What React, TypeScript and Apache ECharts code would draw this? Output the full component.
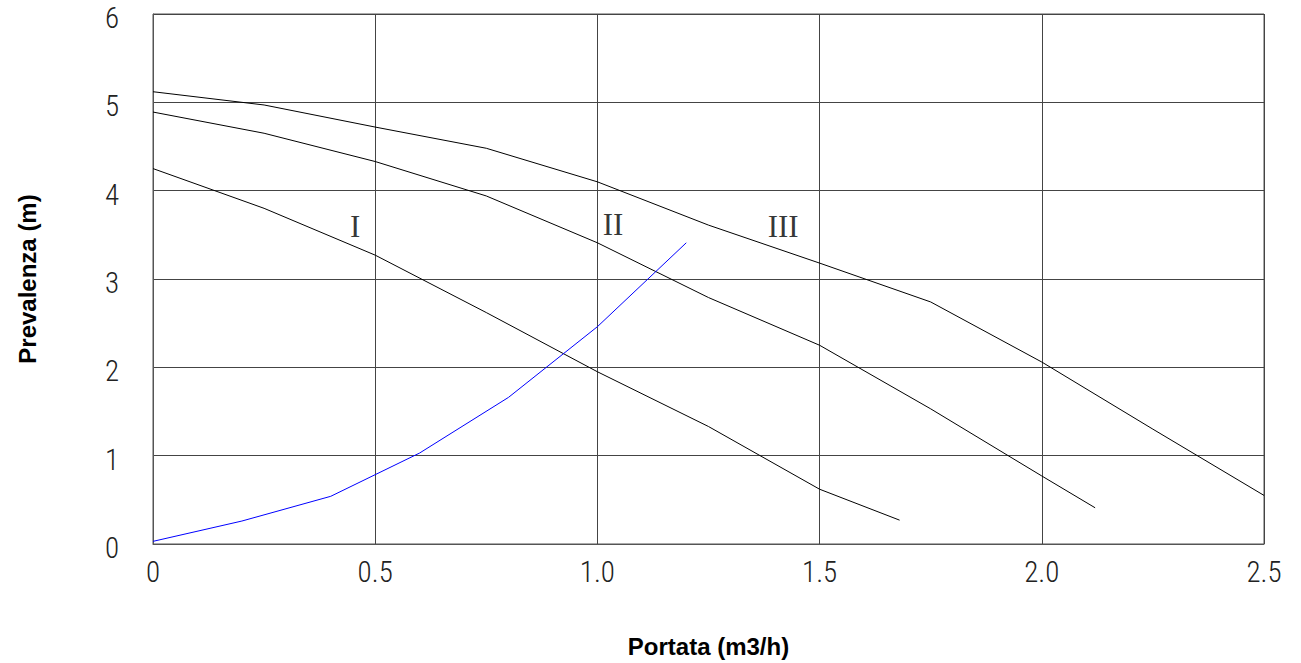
import React, { useEffect, useRef } from "react";
import * as echarts from "echarts";

const xTicks = [0, 0.5, 1.0, 1.5, 2.0, 2.5];
const curveIx = [0, 0.25, 0.5, 0.75, 1.0, 1.25, 1.5, 1.68];
const curveIy = [4.25, 3.8, 3.27, 2.62, 1.95, 1.33, 0.62, 0.27];
const curveIIx = [0, 0.25, 0.5, 0.75, 1.0, 1.25, 1.5, 1.75, 2.0, 2.12];
const curveIIy = [4.89, 4.65, 4.33, 3.94, 3.41, 2.79, 2.25, 1.53, 0.77, 0.41];
const curveIIIx = [0, 0.25, 0.5, 0.75, 1.0, 1.25, 1.5, 1.75, 2.0, 2.25, 2.5];
const curveIIIy = [5.12, 4.97, 4.72, 4.48, 4.1, 3.61, 3.18, 2.74, 2.06, 1.3, 0.55];
const systemX = [0, 0.2, 0.4, 0.6, 0.8, 1.0, 1.2];
const systemY = [0.03, 0.26, 0.54, 1.03, 1.66, 2.46, 3.41];
const labelNames = ["I", "II", "III"];
const labelX = [0.455, 1.035, 1.418];
const labelY = [3.6, 3.62, 3.6];

const zip = (xs: number[], ys: number[]) => xs.map((x, i) => [x, ys[i]]);

export default function App() {
  const ref = useRef<HTMLDivElement>(null);
  useEffect(() => {
    if (!ref.current) return;
    const chart = echarts.init(ref.current, undefined, { renderer: "svg" });
    const tickFont = {
      fontFamily: "'Liberation Sans Narrow', 'Roboto Condensed', 'Roboto', sans-serif",
      fontWeight: 300 as any,
      fontSize: 29,
      color: "#222",
    };
    const nameFont = {
      fontFamily: "'Liberation Sans Narrow', 'Liberation Sans', Arial, sans-serif",
      fontWeight: "bold" as any,
      fontSize: 24,
      color: "#000",
    };
    const lineSeries = (name: string, xs: number[], ys: number[], color: string) => ({
      name,
      type: "line",
      data: zip(xs, ys),
      symbol: "none",
      lineStyle: { color, width: 1 },
      z: 3,
    });
    chart.setOption({
      animation: false,
      backgroundColor: "#fff",
      grid: { left: 153, top: 14, right: 37, bottom: 119, show: true, borderColor: "#555", borderWidth: 1 },
      xAxis: {
        type: "value",
        min: 0,
        max: 2.5,
        interval: 0.5,
        name: "Portata (m3/h)",
        nameLocation: "middle",
        nameGap: 90,
        nameTextStyle: nameFont,
        axisLine: { show: true, lineStyle: { color: "#555", width: 1 } },
        axisTick: { show: false },
        axisLabel: {
          ...tickFont,
          margin: 13,
          formatter: (v: number) => (v === 0 ? "0" : xTicks.includes(v) ? v.toFixed(1) : ""),
        },
        splitLine: { show: true, lineStyle: { color: "#444", width: 1 } },
      },
      yAxis: {
        type: "value",
        min: 0,
        max: 6,
        interval: 1,
        name: "Prevalenza (m)",
        nameLocation: "middle",
        nameGap: 114,
        nameRotate: 90,
        nameTextStyle: nameFont,
        axisLine: { show: true, lineStyle: { color: "#555", width: 1 } },
        axisTick: { show: false },
        axisLabel: { ...tickFont, margin: 34, verticalAlign: "top", lineHeight: 8 },
        splitLine: { show: true, lineStyle: { color: "#444", width: 1 } },
      },
      series: [
        lineSeries("I", curveIx, curveIy, "#000"),
        lineSeries("II", curveIIx, curveIIy, "#000"),
        lineSeries("III", curveIIIx, curveIIIy, "#000"),
        lineSeries("system", systemX, systemY, "#0000ff"),
        {
          type: "scatter",
          symbolSize: 0,
          data: labelNames.map((n, i) => ({ name: n, value: [labelX[i], labelY[i]] })),
          label: {
            show: true,
            position: "inside",
            formatter: (p: any) => p.name,
            fontFamily: "'Liberation Serif', 'DejaVu Serif', serif",
            fontSize: 31,
            color: "#000",
          },
          z: 4,
        },
      ],
    });
    return () => chart.dispose();
  }, []);
  return (
    <div
      ref={ref}
      style={{ position: "fixed", left: 0, top: 0, width: 1301, height: 663, background: "#fff" }}
    />
  );
}
